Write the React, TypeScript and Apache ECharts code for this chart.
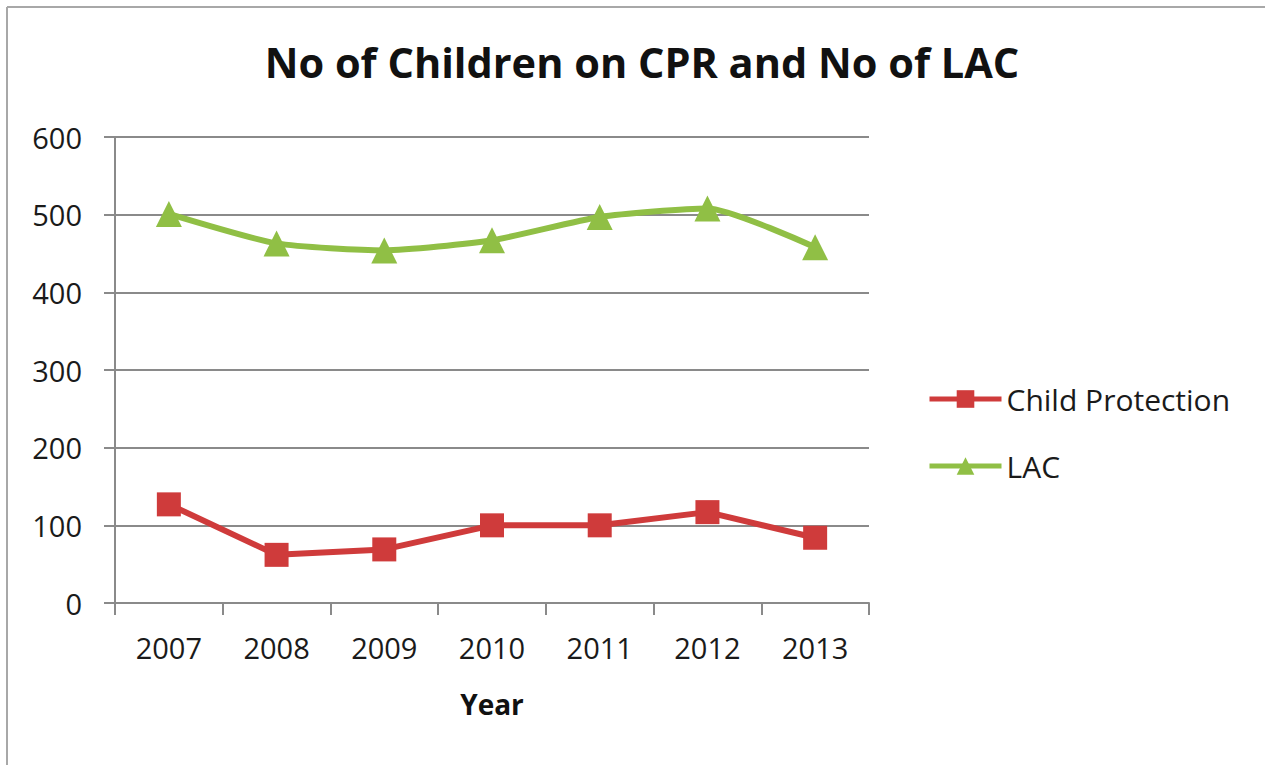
import React, { useEffect, useRef } from "react";
import * as echarts from "echarts";

const years = ["2007", "2008", "2009", "2010", "2011", "2012", "2013"];
const childProtection = [127, 62, 69, 100, 100, 117, 84];
const lac = [501, 463, 454, 467, 497, 508, 458];
const yTicks = { min: 0, max: 600, interval: 100 };

const FONT = "'Open Sans', 'Noto Sans', sans-serif";
const RED = "#CF3B3B";
const GREEN = "#90BF45";

export default function App() {
  const ref = useRef<HTMLDivElement>(null);
  useEffect(() => {
    document.body.style.margin = "0";
    const chart = echarts.init(ref.current!, null, { renderer: "svg" });
    chart.setOption({
      animation: false,
      backgroundColor: "#ffffff",
      title: {
        text: "No of Children on CPR and No of LAC",
        left: 637,
        textAlign: "center",
        top: 36,
        textStyle: { fontFamily: FONT, fontSize: 41.5, fontWeight: "bold", color: "#111" },
      },
      graphic: [
        { type: "line", shape: { x1: 7, y1: 7, x2: 1265, y2: 7 }, style: { stroke: "#a8a8a8", lineWidth: 2 } },
        { type: "line", shape: { x1: 7, y1: 7, x2: 7, y2: 765 }, style: { stroke: "#a8a8a8", lineWidth: 2 } },
      ],
      legend: {
        orient: "vertical",
        left: 922,
        top: 379,
        itemWidth: 72,
        itemHeight: 22,
        itemGap: 37,
        lineStyle: { width: 5 },
        textStyle: { fontFamily: FONT, fontSize: 30, color: "#1a1a1a" },
        data: ["Child Protection", "LAC"],
      },
      grid: { left: 115, top: 137, width: 754, bottom: 162, containLabel: false },
      xAxis: {
        type: "category",
        data: years,
        boundaryGap: true,
        name: "Year",
        nameLocation: "middle",
        nameGap: 87,
        nameTextStyle: { fontFamily: FONT, fontSize: 28, fontWeight: "bold", color: "#111" },
        axisLine: { lineStyle: { color: "#8a8a8a", width: 2 } },
        axisTick: { show: true, length: 12, alignWithLabel: false, lineStyle: { color: "#8a8a8a", width: 2 } },
        axisLabel: { fontFamily: FONT, fontSize: 29, color: "#1a1a1a", margin: 30 },
      },
      yAxis: {
        type: "value",
        min: yTicks.min,
        max: yTicks.max,
        interval: yTicks.interval,
        axisLine: { show: true, lineStyle: { color: "#8a8a8a", width: 2 } },
        axisTick: { show: true, length: 11, lineStyle: { color: "#8a8a8a", width: 2 } },
        splitLine: { lineStyle: { color: "#8a8a8a", width: 2 } },
        axisLabel: { fontFamily: FONT, fontSize: 29, color: "#1a1a1a", margin: 33 },
      },
      series: [
        {
          name: "Child Protection",
          type: "line",
          data: childProtection,
          color: RED,
          symbol: "rect",
          symbolSize: 24,
          lineStyle: { width: 6, color: RED },
          itemStyle: { color: RED },
        },
        {
          name: "LAC",
          type: "line",
          data: lac,
          color: GREEN,
          smooth: 0.2,
          symbol: "triangle",
          symbolSize: 26,
          lineStyle: { width: 6, color: GREEN },
          itemStyle: { color: GREEN },
        },
      ],
    });
    return () => chart.dispose();
  }, []);
  return <div ref={ref} style={{ width: 1265, height: 765 }} />;
}
